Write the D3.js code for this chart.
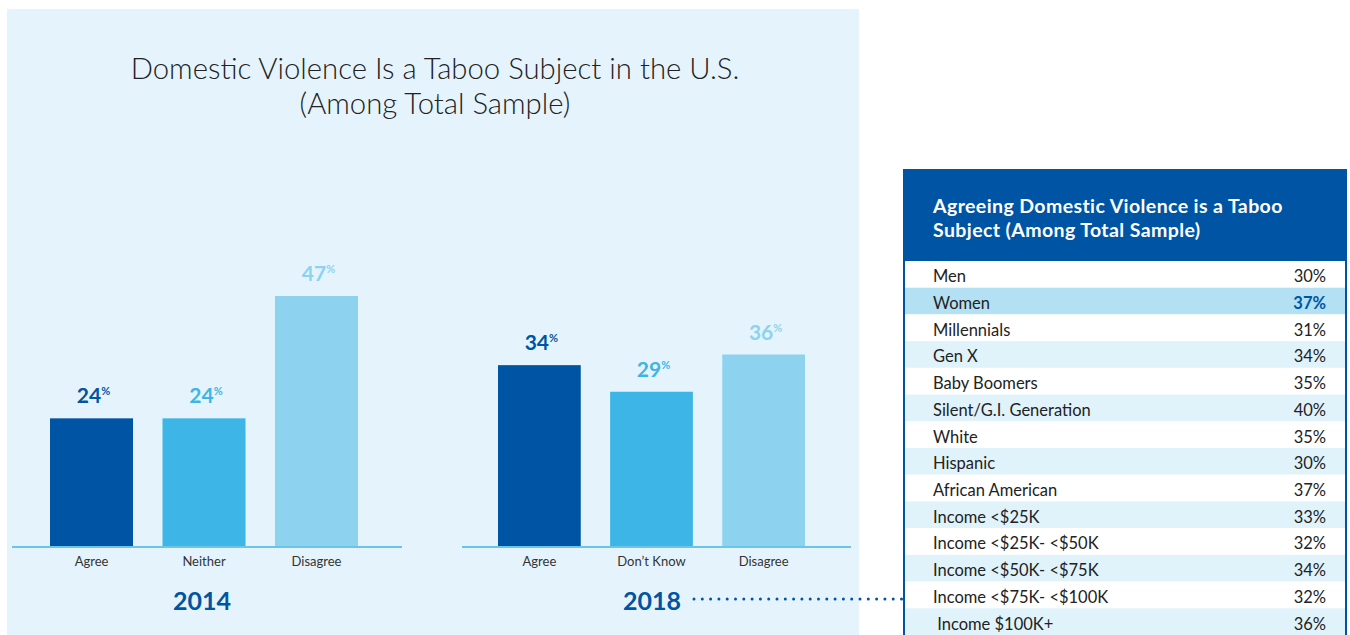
<!DOCTYPE html>
<html>
<head>
<meta charset="utf-8">
<script src="https://cdnjs.cloudflare.com/ajax/libs/d3/7.8.5/d3.min.js"></script>
<style>
  body { margin: 0; background: #fff; }
  svg { display: block; font-family: Lato, "Open Sans", sans-serif; }
</style>
</head>
<body>
<svg id="chart" width="1350" height="635"></svg>
<script>
// bar chart data
var categories2014 = ["Agree", "Neither", "Disagree"];
var values2014 = [24, 24, 47];
var categories2018 = ["Agree", "Don\u2019t Know", "Disagree"];
var values2018 = [34, 29, 36];
var years = ["2014", "2018"];
var barColors = ["#0054a4", "#3db5e6", "#8dd3ef"];

// table data
var tableTitle = ["Agreeing Domestic Violence is a Taboo", "Subject (Among Total Sample)"];
var groups = ["Men", "Women", "Millennials", "Gen X", "Baby Boomers", "Silent/G.I. Generation",
    "White", "Hispanic", "African American", "Income <$25K", "Income <$25K- <$50K",
    "Income <$50K- <$75K", "Income <$75K- <$100K", "\u00a0Income $100K+"];
var groupValues = [30, 37, 31, 34, 35, 40, 35, 30, 37, 33, 32, 34, 32, 36];
var highlightGroup = "Women";

var svg = d3.select("#chart");

// light blue panel behind the bars
svg.append("rect")
    .attr("x", 7).attr("y", 9)
    .attr("width", 852).attr("height", 640)
    .attr("fill", "#e5f4fc");

svg.append("text")
    .attr("x", 435).attr("y", 79)
    .attr("text-anchor", "middle")
    .attr("font-size", 29.3).attr("font-weight", 300)
    .attr("fill", "#222")
    .text("Domestic Violence Is a Taboo Subject in the U.S.");
svg.append("text")
    .attr("x", 435).attr("y", 114)
    .attr("text-anchor", "middle")
    .attr("font-size", 29.3).attr("font-weight", 300)
    .attr("fill", "#222")
    .text("(Among Total Sample)");

// one y scale shared by both charts
var baseY = 546;
var y = d3.scaleLinear().domain([0, 47]).range([baseY, 296]);

function drawBars(cats, vals, range, lineRange, year, yearX) {
    var x = d3.scaleBand().domain(cats).range(range).paddingInner(0.262).paddingOuter(0);
    var g = svg.append("g");

    g.selectAll("rect.bar")
        .data(vals)
        .enter()
        .append("rect")
        .attr("class", "bar")
        .attr("x", function(d, i) { return x(cats[i]); })
        .attr("y", function(d) { return y(d); })
        .attr("width", x.bandwidth())
        .attr("height", function(d) { return baseY - y(d); })
        .attr("fill", function(d, i) { return barColors[i]; });

    // baseline
    g.append("line")
        .attr("x1", lineRange[0]).attr("x2", lineRange[1])
        .attr("y1", baseY + 1).attr("y2", baseY + 1)
        .attr("stroke", "#6cc4e8").attr("stroke-width", 2);

    // category labels
    var axis = g.append("g")
        .attr("transform", "translate(0," + baseY + ")")
        .call(d3.axisBottom(x).tickSize(0).tickPadding(11));
    axis.select(".domain").remove();
    axis.selectAll("text")
        .attr("font-family", "Lato, sans-serif")
        .attr("font-size", 13)
        .attr("fill", "#333");

    // value labels with small % sign
    var labels = g.selectAll("text.val")
        .data(vals)
        .enter()
        .append("text")
        .attr("class", "val")
        .attr("x", function(d, i) { return x(cats[i]) + x.bandwidth() / 2 + 2; })
        .attr("y", function(d) { return y(d) - 15; })
        .attr("text-anchor", "middle")
        .attr("font-weight", 700)
        .attr("fill", function(d, i) { return barColors[i]; });
    labels.append("tspan").attr("font-size", 21).text(function(d) { return d; });
    labels.append("tspan").attr("font-size", 11).attr("dy", -8).text("%");

    g.append("text")
        .attr("x", yearX).attr("y", 610)
        .attr("text-anchor", "middle")
        .attr("font-size", 25).attr("font-weight", 700)
        .attr("fill", "#0054a4")
        .text(year);
}

drawBars(categories2014, values2014, [50, 358], [12, 402], years[0], 202);
drawBars(categories2018, values2018, [498, 805], [462, 851], years[1], 652);

// dotted connector from 2018 to the table
svg.append("line")
    .attr("x1", 694).attr("x2", 903)
    .attr("y1", 599).attr("y2", 599)
    .attr("stroke", "#0054a4").attr("stroke-width", 3)
    .attr("stroke-linecap", "round")
    .attr("stroke-dasharray", "0 8.3");

// table
var tableLeft = 904, tableRight = 1346, headTop = 170, headBottom = 261;
var rowY = d3.scaleBand().domain(groups).range([headBottom, 635]);

svg.append("rect")
    .attr("x", tableLeft).attr("y", headTop)
    .attr("width", tableRight - tableLeft).attr("height", headBottom - headTop)
    .attr("fill", "#0054a4");

svg.selectAll("text.head")
    .data(tableTitle)
    .enter()
    .append("text")
    .attr("class", "head")
    .attr("x", 933)
    .attr("y", function(d, i) { return 213 + i * 24; })
    .attr("font-size", 19.5).attr("font-weight", 700)
    .attr("letter-spacing", 0.4)
    .attr("fill", "#fff")
    .text(function(d) { return d; });

var rows = svg.selectAll("g.row")
    .data(groups)
    .enter()
    .append("g")
    .attr("class", "row")
    .attr("transform", function(d) { return "translate(0," + rowY(d) + ")"; });

rows.append("rect")
    .attr("x", tableLeft).attr("width", tableRight - tableLeft)
    .attr("height", rowY.bandwidth())
    .attr("fill", function(d, i) {
        if (d == highlightGroup) return "#b3e0f2";
        return i % 2 == 0 ? "#ffffff" : "#e0f3fb";
    });

rows.append("text")
    .attr("x", 933)
    .attr("y", rowY.bandwidth() / 2 + 8)
    .attr("font-size", 16.5)
    .attr("fill", "#222")
    .text(function(d) { return d; });

rows.append("text")
    .attr("x", 1326)
    .attr("y", rowY.bandwidth() / 2 + 8)
    .attr("text-anchor", "end")
    .attr("font-size", 16.5)
    .attr("font-weight", function(d) { return d == highlightGroup ? 700 : 400; })
    .attr("fill", function(d) { return d == highlightGroup ? "#0054a4" : "#222"; })
    .text(function(d, i) { return groupValues[i] + "%"; });

// table side borders
svg.append("rect")
    .attr("x", tableLeft).attr("y", headTop)
    .attr("width", tableRight - tableLeft).attr("height", 480)
    .attr("fill", "none")
    .attr("stroke", "#0054a4").attr("stroke-width", 2);
</script>
</body>
</html>
